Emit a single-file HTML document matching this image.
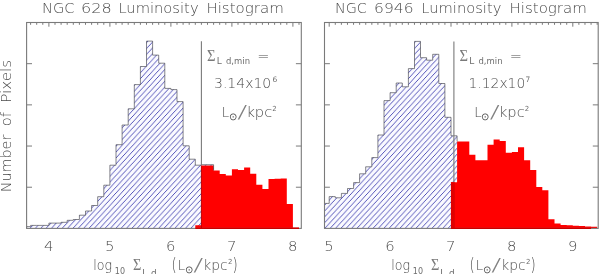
<!DOCTYPE html>
<html lang="en"><head><meta charset="utf-8"><title>Luminosity Histograms</title>
<style>html,body{margin:0;padding:0;background:#fff;}body{width:600px;height:274px;overflow:hidden;}svg{display:block;}text{font-family:"DejaVu Sans Light","DejaVu Sans ExtraLight","DejaVu Sans","Liberation Sans",sans-serif;font-weight:200;fill:#4a4a4a;}.sym{font-family:"Liberation Serif","DejaVu Serif",serif;font-weight:400;fill:#7a7a7a;}.sm{font-family:"DejaVu Sans","Liberation Sans",sans-serif;font-weight:400;fill:#6e6e6e;}.sun{font-family:"DejaVu Sans Light","DejaVu Sans",sans-serif;}</style></head><body>
<svg width="600" height="274" viewBox="0 0 600 274">
<defs>
<pattern id="hatch" patternUnits="userSpaceOnUse" width="5.360" height="5.850" x="3.40" y="0.00">
<rect width="5.360" height="5.850" fill="#fafaff"/>
<path d="M-5.360,11.700 L10.720,-5.850 M-10.720,11.700 L5.360,-5.850 M0.000,11.700 L16.080,-5.850" stroke="#3434ac" stroke-width="0.85" fill="none"/>
</pattern>
</defs>
<rect width="600" height="274" fill="#fff"/>
<polygon points="26.6,228.4 26.6,226.6 30.6,226.6 30.6,225.4 36.7,225.4 36.7,225.4 42.8,225.4 42.8,225.4 48.9,225.4 48.9,223.1 55.0,223.1 55.0,223.1 61.1,223.1 61.1,222.3 67.2,222.3 67.2,220.3 73.3,220.3 73.3,219.5 79.4,219.5 79.4,215.2 85.5,215.2 85.5,211.0 91.6,211.0 91.6,205.5 97.7,205.5 97.7,196.7 103.8,196.7 103.8,185.2 109.9,185.2 109.9,165.2 116.0,165.2 116.0,144.7 122.1,144.7 122.1,125.0 128.2,125.0 128.2,108.8 134.3,108.8 134.3,84.6 140.4,84.6 140.4,66.5 146.5,66.5 146.5,41.1 152.6,41.1 152.6,55.1 158.7,55.1 158.7,63.2 164.8,63.2 164.8,88.4 170.9,88.4 170.9,89.6 177.0,89.6 177.0,101.6 183.1,101.6 183.1,145.8 189.2,145.8 189.2,159.2 195.3,159.2 195.3,165.2 201.4,165.2 201.4,164.7 213.6,164.7 213.6,228.4" fill="url(#hatch)" stroke="none"/>
<polygon points="195.3,228.4 195.3,225.3 201.4,225.3 201.4,165.6 213.6,165.6 213.6,170.4 219.7,170.4 219.7,174.0 225.8,174.0 225.8,175.5 231.9,175.5 231.9,169.3 238.0,169.3 238.0,169.9 244.1,169.9 244.1,167.5 250.2,167.5 250.2,173.7 256.3,173.7 256.3,184.8 262.4,184.8 262.4,188.9 268.5,188.9 268.5,179.0 274.6,179.0 274.6,178.7 280.7,178.7 280.7,178.4 286.8,178.4 286.8,204.0 292.9,204.0 292.9,227.4 299.0,227.4 299.0,228.4" fill="#ff0000" stroke="none"/>
<polyline points="26.6,228.4 26.6,226.6 30.6,226.6 30.6,225.4 36.7,225.4 36.7,225.4 42.8,225.4 42.8,225.4 48.9,225.4 48.9,223.1 55.0,223.1 55.0,223.1 61.1,223.1 61.1,222.3 67.2,222.3 67.2,220.3 73.3,220.3 73.3,219.5 79.4,219.5 79.4,215.2 85.5,215.2 85.5,211.0 91.6,211.0 91.6,205.5 97.7,205.5 97.7,196.7 103.8,196.7 103.8,185.2 109.9,185.2 109.9,165.2 116.0,165.2 116.0,144.7 122.1,144.7 122.1,125.0 128.2,125.0 128.2,108.8 134.3,108.8 134.3,84.6 140.4,84.6 140.4,66.5 146.5,66.5 146.5,41.1 152.6,41.1 152.6,55.1 158.7,55.1 158.7,63.2 164.8,63.2 164.8,88.4 170.9,88.4 170.9,89.6 177.0,89.6 177.0,101.6 183.1,101.6 183.1,145.8 189.2,145.8 189.2,159.2 195.3,159.2 195.3,165.2 201.4,165.2 201.4,164.7 213.6,164.7 213.6,170.4" fill="none" stroke="#34343c" stroke-width="0.6" stroke-linejoin="miter"/>
<rect x="26.6" y="22.5" width="274.7" height="205.9" fill="none" stroke="#7a7a7a" stroke-width="1.1"/>
<path d="M30.60,22.5v2.3M36.70,22.5v2.3M42.80,22.5v2.3M48.90,22.5v4.2M55.00,22.5v2.3M61.10,22.5v2.3M67.20,22.5v2.3M73.30,22.5v2.3M79.40,22.5v2.3M85.50,22.5v2.3M91.60,22.5v2.3M97.70,22.5v2.3M103.80,22.5v2.3M109.90,22.5v4.2M116.00,22.5v2.3M122.10,22.5v2.3M128.20,22.5v2.3M134.30,22.5v2.3M140.40,22.5v2.3M146.50,22.5v2.3M152.60,22.5v2.3M158.70,22.5v2.3M164.80,22.5v2.3M170.90,22.5v4.2M177.00,22.5v2.3M183.10,22.5v2.3M189.20,22.5v2.3M195.30,22.5v2.3M201.40,22.5v2.3M207.50,22.5v2.3M213.60,22.5v2.3M219.70,22.5v2.3M225.80,22.5v2.3M231.90,22.5v4.2M238.00,22.5v2.3M244.10,22.5v2.3M250.20,22.5v2.3M256.30,22.5v2.3M262.40,22.5v2.3M268.50,22.5v2.3M274.60,22.5v2.3M280.70,22.5v2.3M286.80,22.5v2.3M292.90,22.5v4.2M299.00,22.5v2.3" stroke="#7a7a7a" stroke-width="1" fill="none"/>
<path d="M26.6,187.22h5.4M301.3,187.22h-5.4M26.6,146.04h5.4M301.3,146.04h-5.4M26.6,104.86h5.4M301.3,104.86h-5.4M26.6,63.68h5.4M301.3,63.68h-5.4" stroke="#7a7a7a" stroke-width="1" fill="none"/>
<polygon points="324.5,228.4 324.5,203.4 329.2,203.4 329.2,196.6 335.3,196.6 335.3,197.8 341.4,197.8 341.4,193.4 347.5,193.4 347.5,188.5 353.6,188.5 353.6,182.6 359.6,182.6 359.6,173.8 365.7,173.8 365.7,166.8 371.8,166.8 371.8,157.6 377.9,157.6 377.9,135.0 384.0,135.0 384.0,100.6 390.1,100.6 390.1,92.7 396.2,92.7 396.2,83.0 402.3,83.0 402.3,86.8 408.4,86.8 408.4,68.6 414.5,68.6 414.5,41.4 420.5,41.4 420.5,57.7 426.6,57.7 426.6,60.2 432.7,60.2 432.7,54.3 438.8,54.3 438.8,83.5 444.9,83.5 444.9,117.3 451.0,117.3 451.0,135.8 457.1,135.8 457.1,228.4" fill="url(#hatch)" stroke="none"/>
<polygon points="451.0,228.4 451.0,182.2 457.1,182.2 457.1,141.4 463.2,141.4 463.2,141.4 469.3,141.4 469.3,154.8 475.4,154.8 475.4,160.3 481.4,160.3 481.4,160.3 487.5,160.3 487.5,144.8 493.6,144.8 493.6,139.6 499.7,139.6 499.7,141.1 505.8,141.1 505.8,152.8 511.9,152.8 511.9,152.1 518.0,152.1 518.0,147.2 524.1,147.2 524.1,160.3 530.2,160.3 530.2,170.1 536.3,170.1 536.3,187.1 542.3,187.1 542.3,190.3 548.4,190.3 548.4,219.3 554.5,219.3 554.5,223.6 560.6,223.6 560.6,225.0 566.7,225.0 566.7,225.3 572.8,225.3 572.8,225.7 578.9,225.7 578.9,226.0 585.0,226.0 585.0,226.4 591.1,226.4 591.1,226.8 597.2,226.8 597.2,228.4" fill="#ff0000" stroke="none"/>
<polyline points="324.5,228.4 324.5,203.4 329.2,203.4 329.2,196.6 335.3,196.6 335.3,197.8 341.4,197.8 341.4,193.4 347.5,193.4 347.5,188.5 353.6,188.5 353.6,182.6 359.6,182.6 359.6,173.8 365.7,173.8 365.7,166.8 371.8,166.8 371.8,157.6 377.9,157.6 377.9,135.0 384.0,135.0 384.0,100.6 390.1,100.6 390.1,92.7 396.2,92.7 396.2,83.0 402.3,83.0 402.3,86.8 408.4,86.8 408.4,68.6 414.5,68.6 414.5,41.4 420.5,41.4 420.5,57.7 426.6,57.7 426.6,60.2 432.7,60.2 432.7,54.3 438.8,54.3 438.8,83.5 444.9,83.5 444.9,117.3 451.0,117.3 451.0,135.8 457.1,135.8 457.1,141.4" fill="none" stroke="#34343c" stroke-width="0.6" stroke-linejoin="miter"/>
<rect x="324.5" y="22.5" width="273.7" height="205.9" fill="none" stroke="#7a7a7a" stroke-width="1.1"/>
<path d="M329.20,22.5v4.2M335.29,22.5v2.3M341.38,22.5v2.3M347.47,22.5v2.3M353.56,22.5v2.3M359.65,22.5v2.3M365.74,22.5v2.3M371.83,22.5v2.3M377.92,22.5v2.3M384.01,22.5v2.3M390.10,22.5v4.2M396.19,22.5v2.3M402.28,22.5v2.3M408.37,22.5v2.3M414.46,22.5v2.3M420.55,22.5v2.3M426.64,22.5v2.3M432.73,22.5v2.3M438.82,22.5v2.3M444.91,22.5v2.3M451.00,22.5v4.2M457.09,22.5v2.3M463.18,22.5v2.3M469.27,22.5v2.3M475.36,22.5v2.3M481.45,22.5v2.3M487.54,22.5v2.3M493.63,22.5v2.3M499.72,22.5v2.3M505.81,22.5v2.3M511.90,22.5v4.2M517.99,22.5v2.3M524.08,22.5v2.3M530.17,22.5v2.3M536.26,22.5v2.3M542.35,22.5v2.3M548.44,22.5v2.3M554.53,22.5v2.3M560.62,22.5v2.3M566.71,22.5v2.3M572.80,22.5v4.2M578.89,22.5v2.3M584.98,22.5v2.3M591.07,22.5v2.3M597.16,22.5v2.3" stroke="#7a7a7a" stroke-width="1" fill="none"/>
<path d="M324.5,187.22h5.4M598.2,187.22h-5.4M324.5,146.04h5.4M598.2,146.04h-5.4M324.5,104.86h5.4M598.2,104.86h-5.4M324.5,63.68h5.4M598.2,63.68h-5.4" stroke="#7a7a7a" stroke-width="1" fill="none"/>
<path d="M201.4,41.3V165" stroke="#7a7a7a" stroke-width="1.1" fill="none"/>
<path d="M453.9,41.5V182" stroke="#7a7a7a" stroke-width="1.1" fill="none"/>
<rect x="450.9" y="182.2" width="3.9" height="46" fill="#e00000"/>
<path d="M201.4,165.6V228" stroke="#c00000" stroke-width="1" fill="none"/>
<path d="M195.3,228.4H299" stroke="#c80000" stroke-width="1.1" fill="none"/>
<path d="M450.9,228.4H591" stroke="#c80000" stroke-width="1.1" fill="none"/>
<text x="42.1" y="13.0" font-size="14.6" textLength="32.4" lengthAdjust="spacingAndGlyphs">NGC</text>
<text x="81.1" y="13.0" font-size="14.6" textLength="30.7" lengthAdjust="spacingAndGlyphs">628</text>
<text x="118.4" y="13.0" font-size="14.6" textLength="80.2" lengthAdjust="spacingAndGlyphs">Luminosity</text>
<text x="206.4" y="13.0" font-size="14.6" textLength="77.4" lengthAdjust="spacingAndGlyphs">Histogram</text>
<text x="334.9" y="13.0" font-size="14.6" textLength="31.9" lengthAdjust="spacingAndGlyphs">NGC</text>
<text x="374.1" y="13.0" font-size="14.6" textLength="39.4" lengthAdjust="spacingAndGlyphs">6946</text>
<text x="421.3" y="13.0" font-size="14.6" textLength="80.1" lengthAdjust="spacingAndGlyphs">Luminosity</text>
<text x="509.5" y="13.0" font-size="14.6" textLength="77.3" lengthAdjust="spacingAndGlyphs">Histogram</text>
<text x="48.7" y="250.7" font-size="14.8" text-anchor="middle">4</text>
<text x="109.7" y="250.7" font-size="14.8" text-anchor="middle">5</text>
<text x="170.7" y="250.7" font-size="14.8" text-anchor="middle">6</text>
<text x="231.7" y="250.7" font-size="14.8" text-anchor="middle">7</text>
<text x="292.7" y="250.7" font-size="14.8" text-anchor="middle">8</text>
<text x="329.0" y="250.7" font-size="14.8" text-anchor="middle">5</text>
<text x="389.9" y="250.7" font-size="14.8" text-anchor="middle">6</text>
<text x="450.8" y="250.7" font-size="14.8" text-anchor="middle">7</text>
<text x="511.7" y="250.7" font-size="14.8" text-anchor="middle">8</text>
<text x="572.6" y="250.7" font-size="14.8" text-anchor="middle">9</text>
<text transform="translate(10.5,192.3) rotate(-90)" font-size="14.6" textLength="57.6" lengthAdjust="spacingAndGlyphs">Number</text>
<text transform="translate(10.5,126.3) rotate(-90)" font-size="14.6" textLength="14.2" lengthAdjust="spacingAndGlyphs">of</text>
<text transform="translate(10.5,102.7) rotate(-90)" font-size="14.6" textLength="42.9" lengthAdjust="spacingAndGlyphs">Pixels</text>
<text x="93.2" y="270.1" font-size="14.6" textLength="18.8" lengthAdjust="spacingAndGlyphs">log</text>
<text x="114.8" y="273.8" font-size="9.0" textLength="10.2" lengthAdjust="spacingAndGlyphs" class="sm">10</text>
<text x="132.9" y="270.1" font-size="15.8" textLength="8.3" lengthAdjust="spacingAndGlyphs" class="sym">&#931;</text>
<text x="142.3" y="276.0" font-size="9.0" class="sm">L</text>
<text x="151.0" y="276.0" font-size="9.0" class="sm">d</text>
<text x="171.6" y="270.6" font-size="17.0" textLength="5.2" lengthAdjust="spacingAndGlyphs">(</text>
<text x="177.7" y="270.1" font-size="14.6" textLength="7.4" lengthAdjust="spacingAndGlyphs">L</text>
<text x="185.0" y="273.3" font-size="9.6" class="sun">&#8857;</text>
<text x="193.3" y="271.0" font-size="18.0" textLength="10.0" lengthAdjust="spacingAndGlyphs" style="fill:#808080">/</text>
<text x="203.2" y="270.1" font-size="14.6" textLength="24.4" lengthAdjust="spacingAndGlyphs">kpc</text>
<text x="228.0" y="264.2" font-size="7.0" class="sm">2</text>
<text x="232.6" y="270.6" font-size="17.0" textLength="5.2" lengthAdjust="spacingAndGlyphs">)</text>
<text x="391.2" y="270.1" font-size="14.6" textLength="18.8" lengthAdjust="spacingAndGlyphs">log</text>
<text x="412.8" y="273.8" font-size="9.0" textLength="10.2" lengthAdjust="spacingAndGlyphs" class="sm">10</text>
<text x="430.9" y="270.1" font-size="15.8" textLength="8.3" lengthAdjust="spacingAndGlyphs" class="sym">&#931;</text>
<text x="440.3" y="276.0" font-size="9.0" class="sm">L</text>
<text x="449.0" y="276.0" font-size="9.0" class="sm">d</text>
<text x="469.6" y="270.6" font-size="17.0" textLength="5.2" lengthAdjust="spacingAndGlyphs">(</text>
<text x="475.7" y="270.1" font-size="14.6" textLength="7.4" lengthAdjust="spacingAndGlyphs">L</text>
<text x="483.0" y="273.3" font-size="9.6" class="sun">&#8857;</text>
<text x="491.3" y="271.0" font-size="18.0" textLength="10.0" lengthAdjust="spacingAndGlyphs" style="fill:#808080">/</text>
<text x="501.2" y="270.1" font-size="14.6" textLength="24.4" lengthAdjust="spacingAndGlyphs">kpc</text>
<text x="526.0" y="264.2" font-size="7.0" class="sm">2</text>
<text x="530.6" y="270.6" font-size="17.0" textLength="5.2" lengthAdjust="spacingAndGlyphs">)</text>
<text x="207.0" y="60.5" font-size="16.4" textLength="8.5" lengthAdjust="spacingAndGlyphs" class="sym">&#931;</text>
<text x="216.8" y="63.6" font-size="9.0" class="sm">L</text>
<text x="226.0" y="63.6" font-size="9.0" textLength="24.0" lengthAdjust="spacingAndGlyphs" class="sm">d,min</text>
<text x="257.2" y="60.5" font-size="14.6" textLength="12.2" lengthAdjust="spacingAndGlyphs">=</text>
<text x="221.7" y="117.0" font-size="14.6" textLength="7.4" lengthAdjust="spacingAndGlyphs">L</text>
<text x="228.9" y="120.3" font-size="9.6" class="sun">&#8857;</text>
<text x="237.3" y="118.0" font-size="18.0" textLength="10.0" lengthAdjust="spacingAndGlyphs" style="fill:#808080">/</text>
<text x="246.4" y="117.0" font-size="14.6" textLength="25.8" lengthAdjust="spacingAndGlyphs">kpc</text>
<text x="272.3" y="110.9" font-size="7.0" class="sm">2</text>
<text x="459.5" y="60.5" font-size="16.4" textLength="8.5" lengthAdjust="spacingAndGlyphs" class="sym">&#931;</text>
<text x="469.3" y="63.6" font-size="9.0" class="sm">L</text>
<text x="478.5" y="63.6" font-size="9.0" textLength="24.0" lengthAdjust="spacingAndGlyphs" class="sm">d,min</text>
<text x="509.7" y="60.5" font-size="14.6" textLength="12.2" lengthAdjust="spacingAndGlyphs">=</text>
<text x="474.2" y="117.0" font-size="14.6" textLength="7.4" lengthAdjust="spacingAndGlyphs">L</text>
<text x="481.4" y="120.3" font-size="9.6" class="sun">&#8857;</text>
<text x="489.8" y="118.0" font-size="18.0" textLength="10.0" lengthAdjust="spacingAndGlyphs" style="fill:#808080">/</text>
<text x="498.9" y="117.0" font-size="14.6" textLength="25.8" lengthAdjust="spacingAndGlyphs">kpc</text>
<text x="524.8" y="110.9" font-size="7.0" class="sm">2</text>
<text x="214.0" y="88.1" font-size="14.6" textLength="57.2" lengthAdjust="spacingAndGlyphs">3.14x10</text>
<text x="272.6" y="81.8" font-size="7.5" class="sm">6</text>
<text x="468.6" y="88.1" font-size="14.6" textLength="56.6" lengthAdjust="spacingAndGlyphs">1.12x10</text>
<text x="525.4" y="81.8" font-size="7.5" class="sm">7</text>
</svg></body></html>
